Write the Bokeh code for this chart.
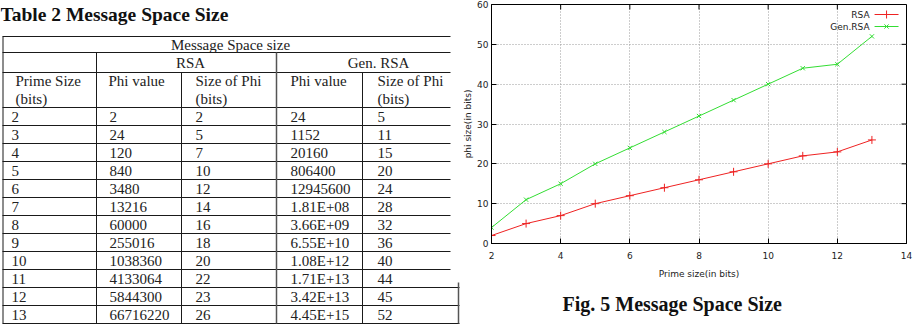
from bokeh.plotting import figure
from bokeh.models import Range1d, Title, FixedTicker, ColumnDataSource
from bokeh.layouts import row
from bokeh.embed import file_html
from bokeh.resources import INLINE
from bokeh.core.properties import value

# ---- Table 2 contents ----
prime_bits = [2, 3, 4, 5, 6, 7, 8, 9, 10, 11, 12, 13]
rsa_phi = ["2", "24", "120", "840", "3480", "13216", "60000", "255016",
           "1038360", "4133064", "5844300", "66716220"]
rsa_phi_bits = [2, 5, 7, 10, 12, 14, 16, 18, 20, 22, 23, 26]
gen_phi = ["24", "1152", "20160", "806400", "12945600", "1.81E+08", "3.66E+09",
           "6.55E+10", "1.08E+12", "1.71E+13", "3.42E+13", "4.45E+15"]
gen_phi_bits = [5, 11, 15, 20, 24, 28, 32, 36, 40, 44, 45, 52]

# ---- Fig. 5 series ----
plot_rsa_bits = [2, 5, 7, 10, 12, 14, 16, 18, 20, 22, 23, 26]
plot_gen_bits = [4, 11, 15, 20, 24, 28, 32, 36, 40, 44, 45, 52]
series_names = ["RSA", "Gen.RSA"]
x_ticks = [2, 4, 6, 8, 10, 12, 14]
y_ticks = [0, 10, 20, 30, 40, 50, 60]

SERIF = value("Liberation Serif")
SANS = "DejaVu Sans"
RED = "#ee2222"
GREEN = "#33dd33"

# ================= table panel (pixel coordinates, y downward) =================
TW, TH = 460, 334
t = figure(width=TW, height=TH, x_range=Range1d(0, TW), y_range=Range1d(TH, 0),
           output_backend="svg", toolbar_location=None,
           x_axis_type=None, y_axis_type=None, min_border=0)
t.min_border_left = t.min_border_right = t.min_border_top = t.min_border_bottom = 0
t.frame_align = False
t.title.visible = False
t.grid.visible = False
t.outline_line_color = None
t.background_fill_color = "white"

ROW_H = 18
HEAD_BOTTOM = 107
n = len(prime_bits)
bottom = HEAD_BOTTOM + ROW_H * n

# horizontal rules
hy = [36, 52, 72, HEAD_BOTTOM] + [HEAD_BOTTOM + ROW_H * (i + 1) for i in range(n)]
hx1 = [450 if y < 280 else 459 for y in hy]
t.segment(x0=[2] * len(hy), y0=hy, x1=hx1, y1=hy, line_color="#1a1a1a", line_width=1)

# vertical rules
vx = [2.5, 96, 181, 276, 362, 458]
vy0 = [36, 52, 72, 52, 72, 282]
t.segment(x0=vx, y0=vy0, x1=vx, y1=[bottom] * len(vx),
          line_color=["#1a1a1a", "#1a1a1a", "#1a1a1a", "#555555", "#1a1a1a", "#555555"],
          line_width=[1, 1, 1, 1.5, 1, 1.5])

# title above the table
t.text(x=[0], y=[13.5], text=["Table 2 Message Space Size"], text_font=SERIF,
       text_font_size="19.5px", text_font_style="bold", text_color="#111111",
       text_baseline="alphabetic", text_align="left")

hdr_style = dict(text_font=SERIF, text_font_size="15px", text_color="#222222",
                 text_baseline="middle")
t.text(x=[230], y=[44], text=["Message Space size"], text_align="center", **hdr_style)
t.text(x=[190, 378], y=[62, 62], text=["RSA", "Gen. RSA"], text_align="center", **hdr_style)
t.text(x=[15, 108, 195, 290, 377], y=[80] * 5,
       text=["Prime Size", "Phi value", "Size of Phi", "Phi value", "Size of Phi"],
       text_align="left", **hdr_style)
t.text(x=[15, 195, 377], y=[98] * 3, text=["(bits)", "(bits)", "(bits)"],
       text_align="left", **hdr_style)

# body cells
col_x = [11, 109, 195, 290, 377]
cells = {"x": [], "y": [], "s": []}
for i in range(n):
    yc = HEAD_BOTTOM + ROW_H * i + ROW_H / 2 + 0.5
    for cx, val in zip(col_x, [prime_bits[i], rsa_phi[i], rsa_phi_bits[i],
                               gen_phi[i], gen_phi_bits[i]]):
        cells["x"].append(cx)
        cells["y"].append(yc)
        cells["s"].append(str(val))
t.text(x="x", y="y", text="s", source=ColumnDataSource(cells),
       text_align="left", **hdr_style)

# ================= Fig. 5 chart =================
p = figure(width=455, height=334, x_range=Range1d(2, 14), y_range=Range1d(0, 60),
           output_backend="svg", toolbar_location=None,
           min_border_left=30, min_border_right=9, min_border_top=4, min_border_bottom=91)
p.frame_align = False
p.title.visible = False
p.outline_line_color = "black"
p.outline_line_width = 1

for ax, ticks in ((p.xaxis[0], x_ticks), (p.yaxis[0], y_ticks)):
    ax.ticker = FixedTicker(ticks=ticks)
    ax.major_tick_in = 5
    ax.major_tick_out = 0
    ax.minor_tick_line_color = None
    ax.axis_line_color = "black"
    ax.major_tick_line_color = "black"
    ax.major_label_text_font = SANS
    ax.major_label_text_font_size = "9px"
    ax.major_label_text_color = "#222222"
    ax.axis_label_text_font = SANS
    ax.axis_label_text_font_size = "9px"
    ax.axis_label_text_font_style = "normal"
    ax.axis_label_text_color = "#222222"

p.xaxis[0].axis_label = "Prime size(in bits)"
p.xaxis[0].major_label_standoff = 8
p.xaxis[0].axis_label_standoff = 7
p.yaxis[0].axis_label = "phi size(in bits)"
p.yaxis[0].major_label_standoff = 3
p.yaxis[0].axis_label_standoff = 1

p.xgrid.ticker = FixedTicker(ticks=x_ticks)
p.ygrid.ticker = FixedTicker(ticks=y_ticks)
p.grid.grid_line_color = "#9a9a9a"
p.grid.grid_line_dash = "1 2"
p.grid.grid_line_width = 1

# inward tick marks mirrored on the top and right edges of the frame
tick_dy = 5 * 60 / 239
tick_dx = 5 * 12 / 416
p.segment(x0=x_ticks, y0=[60] * len(x_ticks), x1=x_ticks, y1=[60 - tick_dy] * len(x_ticks),
          line_color="black", line_width=1)
p.segment(x0=[14] * len(y_ticks), y0=y_ticks, x1=[14 - tick_dx] * len(y_ticks), y1=y_ticks,
          line_color="black", line_width=1)

# series
p.line(prime_bits, plot_rsa_bits, line_color=RED, line_width=1)
p.scatter(prime_bits, plot_rsa_bits, marker="cross", size=8, line_color=RED, line_width=1)
p.line(prime_bits, plot_gen_bits, line_color=GREEN, line_width=1)
p.scatter(prime_bits, plot_gen_bits, marker="x", size=6, line_color=GREEN, line_width=1)

# key in the upper right corner: label, then line sample with marker
def to_x(px):
    return 2 + (px - 490) * 12 / 416

def to_y(py):
    return 60 - (py - 4) * 60 / 239

key_y = [to_y(14), to_y(26)]
p.text(x=[to_x(869)] * 2, y=key_y, text=series_names, text_font=value(SANS),
       text_font_size="9px", text_color="#222222", text_align="right",
       text_baseline="middle")
p.segment(x0=[to_x(874)] * 2, y0=key_y, x1=[to_x(898)] * 2, y1=key_y,
          line_color=[RED, GREEN], line_width=1)
p.scatter([to_x(886)], [key_y[0]], marker="cross", size=8, line_color=RED)
p.scatter([to_x(886)], [key_y[1]], marker="x", size=6, line_color=GREEN)

caption = Title(text="Fig. 5 Message Space Size", align="left", offset=71,
                text_font="Liberation Serif", text_font_size="20px",
                text_font_style="bold", text_color="#111111", standoff=19)
p.add_layout(caption, "below")

layout = row(t, p)
open("out.html", "w").write(file_html(layout, INLINE))
